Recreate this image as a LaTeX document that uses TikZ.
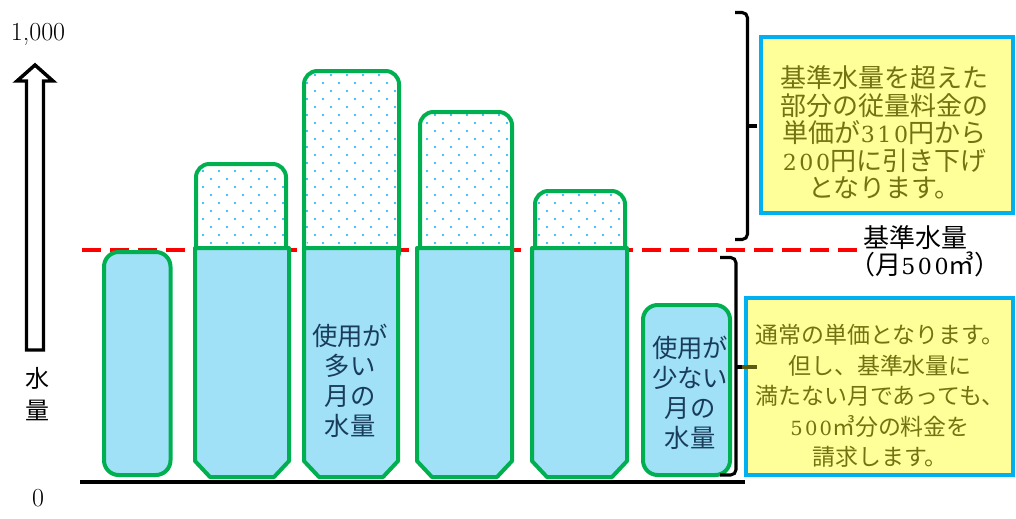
\documentclass[tikz,border=0pt]{standalone}
\usepackage{fontspec}
\newfontfamily\jp{Noto Sans CJK JP}
\newfontfamily\dgfont{DejaVu Serif}[Scale=0.85,LetterSpace=12]
\newcommand\dg[1]{{\dgfont #1}}
\definecolor{bargreen}{RGB}{0,176,80}
\definecolor{barblue}{HTML}{A0E1F8}
\definecolor{dotcyan}{RGB}{0,176,240}
\definecolor{boxcyan}{RGB}{0,176,240}
\definecolor{boxyellow}{HTML}{FFFF99}
\definecolor{olivetext}{RGB}{115,115,20}
\definecolor{labelblue}{RGB}{25,60,90}
\definecolor{refred}{RGB}{255,0,0}
\begin{document}
\begin{tikzpicture}[x=0.75pt,y=-0.75pt,
  barlow/.style={draw=bargreen, fill=barblue, line width=3pt, line join=round},
  barup/.style={draw=bargreen, line width=3pt, line join=round, rounded corners=10pt},
  ybox/.style={draw=boxcyan, fill=boxyellow, line width=3pt, inner sep=0pt},
  boxtext/.style={text=olivetext, align=center, inner sep=0pt},
  barlabel/.style={font=\jp\fontsize{19pt}{22.5pt}\selectfont, text=labelblue, align=center, inner sep=0pt},
  bracestyle/.style={draw=black, line width=2.3pt, rounded corners=4pt},
  axistext/.style={font=\rmfamily\fontsize{19.5pt}{20pt}\selectfont, inner sep=0pt}]
\useasboundingbox (0,0) rectangle (1016,518);
\fill[white] (0,0) rectangle (1016,518);

% axis
\node[axistext] (ymax) at (38,34) {1,000};
\node[axistext] (ymin) at (38,498) {0};
\node[font=\jp\fontsize{18pt}{24pt}\selectfont, align=center, inner sep=0pt] (ylab) at (38,394) {水\\量};
\draw[line width=2.6pt, fill=white, line join=miter] (35,65) -- (53,81) -- (43.5,81) -- (43.5,350) -- (26.5,350) -- (26.5,81) -- (17,81) -- cycle;

% reference line
\draw[refred, line width=3pt, dash pattern=on 14.25pt off 6.75pt] (82,249.5) -- (857,249.5);

% upper parts of bars
\foreach \a/\b/\t in {196/286/164, 304/399/71, 420/512/112, 535/625/191}
  \fill[white, rounded corners=10pt] (\a,\t) rectangle (\b,265);
\begin{scope}
  \clip[rounded corners=10pt] (196,164) rectangle (286,248)
        (304,71) rectangle (399,248)
        (420,112) rectangle (512,248)
        (535,191) rectangle (625,248);
  \foreach \yy in {59,75,...,251}
    \foreach \xx in {187,203,...,635}
      \fill[dotcyan] (\xx,\yy) circle (0.8pt) (\xx+8,\yy+8) circle (0.8pt);
\end{scope}
\foreach \a/\b/\t in {196/286/164, 304/399/71, 420/512/112, 535/625/191}
  \draw[barup] (\a,\t) rectangle (\b,265);

% lower parts of bars
\foreach \a/\b in {195/289, 304/398, 417/512, 532/627}
  \draw[barlow] (\a,248) -- (\a,461) -- (\a+15,477) -- (\b-15,477) -- (\b,461) -- (\b,248) -- cycle;
\draw[barlow, rounded corners=11pt] (104,252) rectangle (170.5,475);
\draw[barlow, rounded corners=11pt] (643,305) rectangle (730,475);

% base line
\draw[line width=2.6pt] (80,482) -- (745,482);

% bar labels
\node[barlabel] (lab3) at (350,381) {使用が\\多い\\月の\\水量};
\node[barlabel] (lab6) at (690,393) {使用が\\少ない\\月の\\水量};

% reference label
\node[font=\jp\fontsize{19.5pt}{20pt}\selectfont, inner sep=0pt] (kijun) at (915,238) {基準水量};
\node[font=\jp\fontsize{19.5pt}{20pt}\selectfont, inner sep=0pt] (kijun2) at (925,264) {（月\dg{500}㎥）};

% braces
\draw[bracestyle] (735,12.5) -- (747.5,12.5) -- (747.5,239.5) -- (735,239.5);
\draw[bracestyle] (747.5,126) -- (757,126);
\draw[bracestyle] (720,257.5) -- (736,257.5) -- (736,475) -- (720,475);
\draw[bracestyle] (736,367) -- (742,367);

% boxes
\node[ybox, minimum width=189pt, minimum height=132pt] (box1) at (887,125) {};
\node[boxtext, font=\jp\fontsize{19.5pt}{20.7pt}\selectfont] (text1) at (884.5,132.5) {基準水量を超えた\\部分の従量料金の\\単価が\dg{310}円から\\\dg{200}円に引き下げ\\となります。};
\node[ybox, minimum width=200.25pt, minimum height=132.75pt] (box2) at (879.5,386.5) {};
\node[boxtext, font=\jp\fontsize{17.2pt}{22.8pt}\selectfont] (text2) at (880,396) {通常の単価となります。\\但し、基準水量に\\満たない月であっても、\\\dg{500}㎥分の料金を\\請求します。};

% connector
\coordinate (b2tip) at (742,367);
\coordinate (b2end) at (757,367);
\draw[olivetext!80!black, line width=2.3pt] (b2tip) -- (b2end);
\end{tikzpicture}
\end{document}
